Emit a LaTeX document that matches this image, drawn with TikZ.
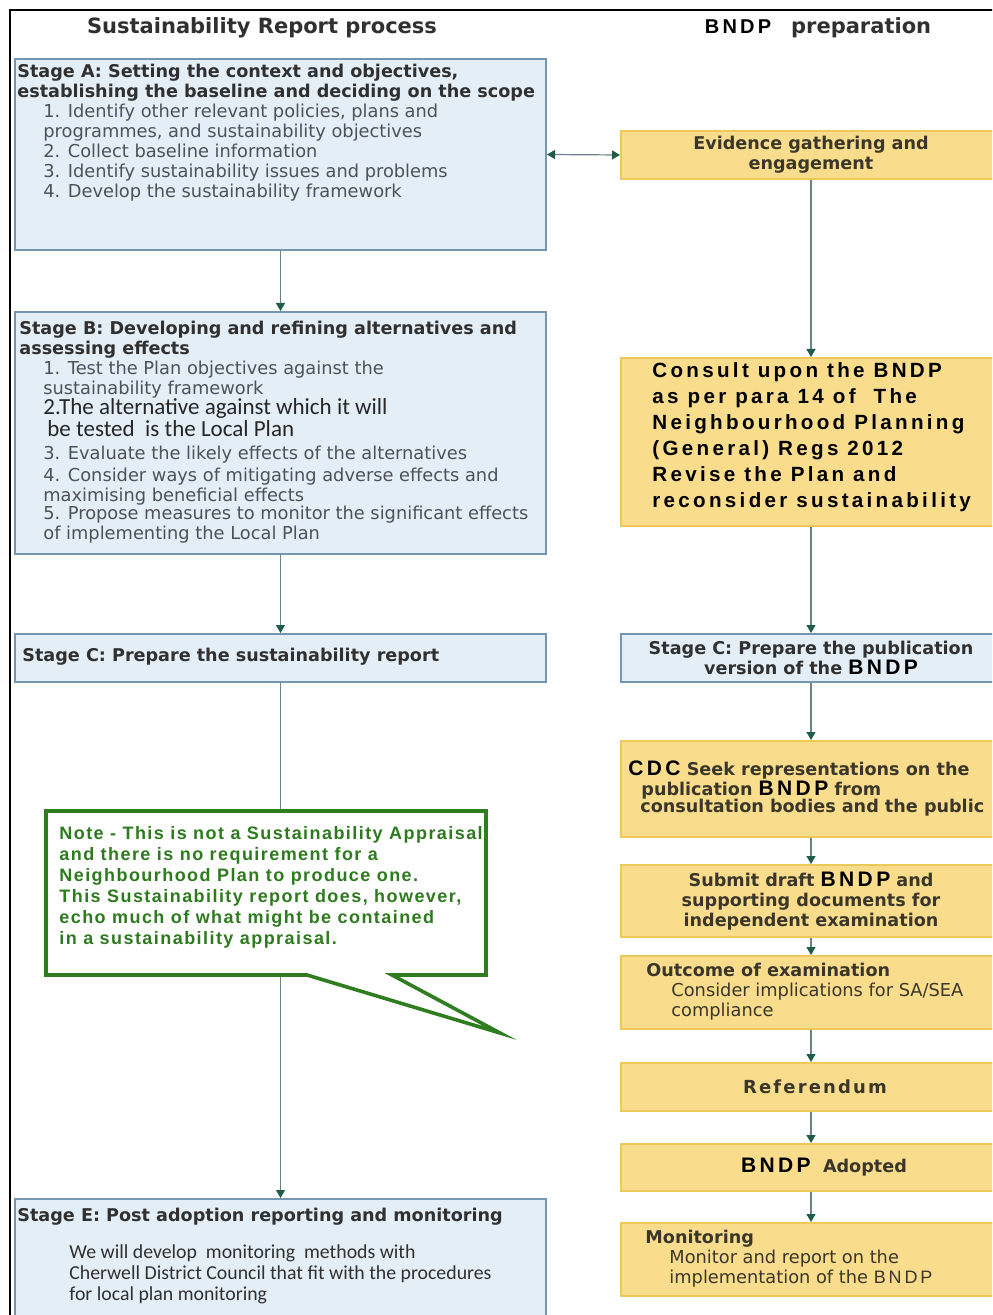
\documentclass[tikz,border=0pt]{standalone}
\usepackage{fontspec}
\setmainfont{DejaVu Sans}
\newfontfamily\arialfont{Liberation Sans}
\newfontfamily\spacedarial[LetterSpace=16]{Liberation Sans}
\newfontfamily\notefont[LetterSpace=8]{Liberation Sans}
\newfontfamily\spacedsans[LetterSpace=12]{DejaVu Sans}
\newfontfamily\calfont{Carlito}
\usetikzlibrary{positioning}
\usetikzlibrary{arrows.meta}

\definecolor{boxblue}{HTML}{E4EEF7}
\definecolor{lineblue}{HTML}{7496AE}
\definecolor{boxyellow}{HTML}{F9DC8C}
\definecolor{lineyellow}{HTML}{EDC95A}
\definecolor{arrowgray}{HTML}{708088}
\definecolor{arrowgreen}{HTML}{1F5C4A}
\definecolor{notegreen}{HTML}{2F7D20}
\definecolor{notetext}{HTML}{2E7A1E}
\definecolor{titlegray}{HTML}{303030}
\definecolor{bodygray}{HTML}{4C5258}
\definecolor{yellowtext}{HTML}{3A372A}

\tikzstyle{bluebox}=[rectangle,draw=lineblue,fill=boxblue,line width=1pt,inner sep=0pt,anchor=north west]
\tikzstyle{yellowbox}=[rectangle,draw=lineyellow,fill=boxyellow,line width=1pt,inner sep=0pt,anchor=north west]
\tikzstyle{boxtext}=[align=left,inner sep=0pt]
\tikzstyle{flow}=[draw=arrowgray,line width=0.6pt,-{Triangle[length=4pt,width=4.5pt,color=arrowgreen]}]

\newcommand{\hdr}{\normalfont\fontsize{10.5}{12}\selectfont\bfseries\color{titlegray}}
\newcommand{\ttl}{\normalfont\fontsize{8.8}{10}\selectfont\bfseries\color{titlegray}}
\newcommand{\bdy}{\normalfont\fontsize{8.9}{10}\selectfont\color{bodygray}}
\newcommand{\bdytight}{\bdy\lineskiplimit=-6pt\relax}
\newcommand{\ybdy}{\normalfont\fontsize{8.9}{10}\selectfont\color{yellowtext}}
\newcommand{\yttl}{\normalfont\fontsize{8.8}{10}\selectfont\bfseries\color{yellowtext}}
\newcommand{\calbdy}{\calfont\fontsize{9.9}{10.5}\selectfont\mdseries\color{titlegray}}
\newcommand{\calbig}{\calfont\fontsize{11.5}{10}\selectfont\mdseries\color{black!85}}
\newcommand{\consultfnt}{\spacedarial\fontsize{10.3}{13}\selectfont\bfseries\color{black}}
\newcommand{\notefnt}{\notefont\fontsize{9}{10.5}\selectfont\bfseries\color{notetext}}
\newcommand{\reffnt}{\spacedsans\fontsize{9}{10}\selectfont\bfseries\color{yellowtext}}
\newcommand{\ind}{\hspace*{13pt}}
\newcommand{\bndp}{{\spacedarial\bfseries\fontsize{10.5}{10}\selectfont\color{black}BNDP}}

\begin{document}
\begin{tikzpicture}[x=0.5pt,y=-0.5pt]
\useasboundingbox (0,0) rectangle (992,1315);
\clip (0,0) rectangle (992,1315);
\fill[white] (0,0) rectangle (992,1315);

% frame
\draw[line width=1pt] (10,1330) -- (10,10) -- (1000,10);

% headings
\node (hdrL) at (262,28) {\hdr Sustainability Report process};
\node (hdrR) at (818,28) {{\spacedarial\bfseries\fontsize{10}{12}\selectfont\color{black}BNDP}\quad\hdr preparation};

% sustainability report column
\node[bluebox,minimum width=265.5pt,minimum height=95.5pt] (stA) at (14,58) {};
\node[boxtext,anchor=north west,font=\bdy] (stAtext) at (17,64) {\ttl Stage A: Setting the context and objectives,\\
  \ttl establishing the baseline and deciding on the scope\\
  \ind 1. Identify other relevant policies, plans and\\
  \ind programmes, and sustainability objectives\\
  \ind 2. Collect baseline information\\
  \ind 3. Identify sustainability issues and problems\\
  \ind 4. Develop the sustainability framework};

\node[bluebox,minimum width=265.5pt,minimum height=121pt] (stB) at (14,311) {};
\node[boxtext,anchor=north west,font=\bdytight] (stBtext) at (19,321) {\ttl Stage B: Developing and refining alternatives and\\
  \ttl assessing effects\\
  \hspace*{12pt}1. Test the Plan objectives against the\\
  \hspace*{12pt}sustainability framework\\
  \hspace*{12pt}\calbig 2.The alternative against which it will\\[1pt]
  \hspace*{14pt}\calbig be tested\ \ is the Local Plan\\[1.5pt]
  \hspace*{12pt}3. Evaluate the likely effects of the alternatives\\[1pt]
  \hspace*{12pt}4. Consider ways of mitigating adverse effects and\\
  \hspace*{12pt}maximising beneficial effects\\[-1pt]
  \hspace*{12pt}5. Propose measures to monitor the significant effects\\
  \hspace*{12pt}of implementing the Local Plan};

\node[bluebox,minimum width=265.5pt,minimum height=24pt] (stC) at (14,633) {};
\node[boxtext,anchor=west,font=\ttl] (stCtext) at (22,657) {Stage C: Prepare the sustainability report};

\node[bluebox,minimum width=265.5pt,minimum height=61pt] (stE) at (14,1198) {};
\node[boxtext,anchor=north west,font=\calbdy] (stEtext) at (17,1208) {\ttl Stage E: Post adoption reporting and monitoring\\[8pt]
  \hspace*{26pt}We will develop\ \ monitoring\ \ methods with\\
  \hspace*{26pt}Cherwell District Council that fit with the procedures\\
  \hspace*{26pt}for local plan monitoring};

% BNDP column
\node[yellowbox,minimum width=190pt,minimum height=24pt,align=center,font=\yttl] (evid) at (620,130) {Evidence gathering and\\engagement};

\node[yellowbox,minimum width=190pt,minimum height=84pt] (consult) at (620,357) {};
\node[boxtext,anchor=west,font=\consultfnt] (consulttext) at ([xshift=16pt,yshift=2.5pt]consult.west) {Consult upon the BNDP\\
  as per para 14 of\ \ The\\
  Neighbourhood Planning\\
  (General) Regs 2012\\
  Revise the Plan and\\
  reconsider sustainability};

\node[bluebox,minimum width=190pt,minimum height=24pt,align=center,font=\ttl] (pubC) at (620,633) {Stage C: Prepare the publication\\version of the \bndp};

\node[yellowbox,minimum width=190pt,minimum height=48pt] (cdc) at (620,740) {};
\node[boxtext,anchor=west,font=\yttl] (cdctext) at ([xshift=4pt,yshift=0.5pt]cdc.west) {{\spacedarial\bfseries\fontsize{10.5}{10}\selectfont\color{black}CDC} Seek representations on the\\
  \hspace*{6.5pt}publication \bndp{} from\\[-1.5pt]
  \hspace*{6pt}consultation bodies and the public};

\node[yellowbox,minimum width=190pt,minimum height=36pt,align=center,font=\yttl] (submit) at (620,864) {Submit draft \bndp{} and\\supporting documents for\\independent examination};

\node[yellowbox,minimum width=190pt,minimum height=36.5pt] (outcome) at (620,955) {};
\node[boxtext,anchor=west,font=\ybdy] (outcometext) at ([xshift=13pt,yshift=0.5pt]outcome.west) {\yttl Outcome of examination\\
  \hspace*{12.5pt}Consider implications for SA/SEA\\
  \hspace*{12.5pt}compliance};

\node[yellowbox,minimum width=190pt,minimum height=24pt,font=\reffnt] (refer) at (620,1062) {\hspace*{4pt}Referendum};

\node[yellowbox,minimum width=190pt,minimum height=23.5pt,font=\yttl] (adopted) at (620,1143) {\hspace*{13pt}\bndp\ \ Adopted};

\node[yellowbox,minimum width=190pt,minimum height=36.5pt] (monit) at (620,1222) {};
\node[boxtext,anchor=west,font=\ybdy] (monittext) at ([xshift=12.5pt,yshift=0.5pt]monit.west) {\yttl Monitoring\\
  \hspace*{12pt}Monitor and report on the\\
  \hspace*{12pt}implementation of the {\spacedarial\fontsize{9}{10}\selectfont BNDP}};

% connectors
\foreach \source/\dest in {stA/stB, stB/stC, stC/stE, evid/consult, consult/pubC, pubC/cdc, cdc/submit, submit/outcome, outcome/refer, refer/adopted, adopted/monit}
  \draw[flow] (\source) -- (\dest);
\draw[flow,{Triangle[length=4pt,width=4.5pt,color=arrowgreen]}-{Triangle[length=4pt,width=4.5pt,color=arrowgreen]}] (stA.east) -- (evid.west);

% note callout
\draw[notegreen,line width=1.8pt,fill=white] (46,811) -- (486,811) -- (486,975) -- (392,975) -- (500,1033) -- (307,975) -- (46,975) -- cycle;
\node[boxtext,anchor=north west,font=\notefnt] (note) at (59,826) {Note - This is not a Sustainability Appraisal\\
  and there is no requirement for a\\
  Neighbourhood Plan to produce one.\\
  This Sustainability report does, however,\\
  echo much of what might be contained\\
  in a sustainability appraisal.};
\end{tikzpicture}
\end{document}
